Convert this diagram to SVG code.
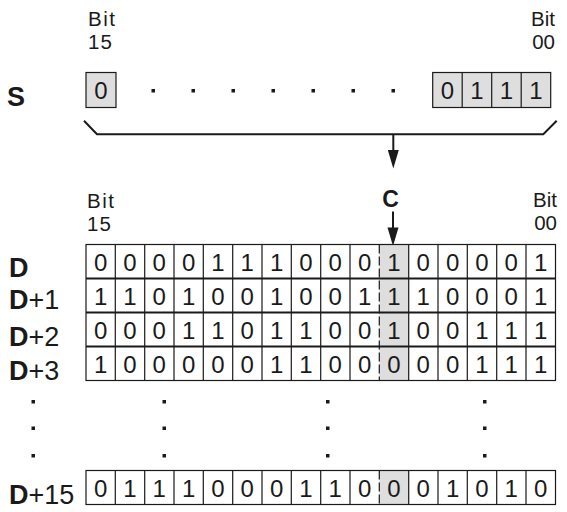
<svg xmlns="http://www.w3.org/2000/svg" width="567" height="512" viewBox="0 0 567 512">
<defs>
<style>
text{font-family:"Liberation Sans",Arial,sans-serif;fill:#1a1a1a}
.bit{font-size:20.5px}
.dig{font-size:24px;text-anchor:middle}
.lbl{font-size:27px}
.b{font-weight:bold}
.gray{fill:#dedede;stroke:#1a1a1a;stroke-width:1.2}
.dot{fill:#1a1a1a}
.ln{fill:none;stroke:#1a1a1a;stroke-width:2}
.head{fill:#1a1a1a}
</style>
</defs>
<rect width="567" height="512" fill="#fff"/>

<g id="bit-labels">
<text class="bit" x="88" y="26" textLength="27">Bit</text>
<text class="bit" x="88" y="48.5" textLength="24">15</text>
<text class="bit" x="555" y="26" text-anchor="end">Bit</text>
<text class="bit" x="555" y="48.5" text-anchor="end">00</text>
<text class="bit" x="87" y="208" textLength="27">Bit</text>
<text class="bit" x="87" y="230.5" textLength="24">15</text>
<text class="bit" x="557" y="207" text-anchor="end">Bit</text>
<text class="bit" x="557" y="229.5" text-anchor="end">00</text>
</g>

<g id="S">
<text class="lbl b" x="7" y="106">S</text>
<rect class="gray" x="86" y="72.5" width="30" height="35"/>
<text class="dig" x="101" y="99">0</text>
<rect class="gray" x="432.7" y="72.5" width="118" height="35"/>
<line x1="462.2" y1="72.5" x2="462.2" y2="107.5" stroke="#1a1a1a" stroke-width="1.2"/>
<line x1="491.7" y1="72.5" x2="491.7" y2="107.5" stroke="#1a1a1a" stroke-width="1.2"/>
<line x1="521.2" y1="72.5" x2="521.2" y2="107.5" stroke="#1a1a1a" stroke-width="1.2"/>
<text class="dig" x="447.5" y="99">0</text>
<text class="dig" x="477" y="99">1</text>
<text class="dig" x="506.5" y="99">1</text>
<text class="dig" x="536" y="99">1</text>
<rect class="dot" x="151.5" y="89" width="3.5" height="3.5"/>
<rect class="dot" x="191.5" y="89" width="3.5" height="3.5"/>
<rect class="dot" x="231.5" y="89" width="3.5" height="3.5"/>
<rect class="dot" x="271.5" y="89" width="3.5" height="3.5"/>
<rect class="dot" x="311.5" y="89" width="3.5" height="3.5"/>
<rect class="dot" x="351.5" y="89" width="3.5" height="3.5"/>
<rect class="dot" x="391.5" y="89" width="3.5" height="3.5"/>
</g>

<g id="connectors">
<path class="ln" d="M84,120.7 L97,134.3 L543.3,134.3 L556.7,120.7"/>
<line class="ln" x1="393.3" y1="134.3" x2="393.3" y2="152"/>
<path class="head" d="M387.8,150 L398.8,150 L393.3,168.5 Z"/>
<line class="ln" x1="393" y1="211.5" x2="393" y2="229"/>
<path class="head" d="M387.5,227.5 L398.5,227.5 L393,246 Z"/>
</g>

<g id="C">
<text class="b" x="390.5" y="207" font-size="23" text-anchor="middle">C</text>
</g>

<g id="grid">
<rect x="379.3" y="244.5" width="29.4" height="136" fill="#dedede"/>
<rect x="379.3" y="470.5" width="29.4" height="34" fill="#dedede"/>
<g fill="none" stroke="#1a1a1a" stroke-width="1.2">
<rect x="86" y="244.5" width="469.5" height="136"/>
<rect x="86" y="470.5" width="469.5" height="34"/>
<g stroke-width="1.8">
<line x1="86" y1="278.5" x2="555.5" y2="278.5"/>
<line x1="86" y1="312.5" x2="555.5" y2="312.5"/>
<line x1="86" y1="346.5" x2="555.5" y2="346.5"/>
</g>
<path d="M115.3,244.5V380.5M144.7,244.5V380.5M174,244.5V380.5M203.3,244.5V380.5M232.7,244.5V380.5M262,244.5V380.5M291.3,244.5V380.5M320.7,244.5V380.5M350,244.5V380.5M408.7,244.5V380.5M438,244.5V380.5M467.3,244.5V380.5M496.7,244.5V380.5M526,244.5V380.5"/>
<path d="M115.3,470.5V504.5M144.7,470.5V504.5M174,470.5V504.5M203.3,470.5V504.5M232.7,470.5V504.5M262,470.5V504.5M291.3,470.5V504.5M320.7,470.5V504.5M350,470.5V504.5M408.7,470.5V504.5M438,470.5V504.5M467.3,470.5V504.5M496.7,470.5V504.5M526,470.5V504.5"/>
<path d="M379.3,244.5V380.5M379.3,470.5V504.5" stroke-dasharray="9 3"/>
</g>
</g>

<g id="row-D">
<text class="lbl" x="9" y="277"><tspan class="b">D</tspan></text>
<text class="dig" y="270.5"><tspan x="100.7">0</tspan><tspan x="130">0</tspan><tspan x="159.3">0</tspan><tspan x="188.7">0</tspan><tspan x="218">1</tspan><tspan x="247.3">1</tspan><tspan x="276.7">1</tspan><tspan x="306">0</tspan><tspan x="335.3">0</tspan><tspan x="364.7">0</tspan><tspan x="394">1</tspan><tspan x="423.3">0</tspan><tspan x="452.7">0</tspan><tspan x="482">0</tspan><tspan x="511.3">0</tspan><tspan x="540.7">1</tspan></text>
</g>
<g id="row-D1">
<text class="lbl" x="9" y="309"><tspan class="b">D</tspan>+1</text>
<text class="dig" y="304.5"><tspan x="100.7">1</tspan><tspan x="130">1</tspan><tspan x="159.3">0</tspan><tspan x="188.7">1</tspan><tspan x="218">0</tspan><tspan x="247.3">0</tspan><tspan x="276.7">1</tspan><tspan x="306">0</tspan><tspan x="335.3">0</tspan><tspan x="364.7">1</tspan><tspan x="394">1</tspan><tspan x="423.3">1</tspan><tspan x="452.7">0</tspan><tspan x="482">0</tspan><tspan x="511.3">0</tspan><tspan x="540.7">1</tspan></text>
</g>
<g id="row-D2">
<text class="lbl" x="9" y="345.5"><tspan class="b">D</tspan>+2</text>
<text class="dig" y="338.5"><tspan x="100.7">0</tspan><tspan x="130">0</tspan><tspan x="159.3">0</tspan><tspan x="188.7">1</tspan><tspan x="218">1</tspan><tspan x="247.3">0</tspan><tspan x="276.7">1</tspan><tspan x="306">1</tspan><tspan x="335.3">0</tspan><tspan x="364.7">0</tspan><tspan x="394">1</tspan><tspan x="423.3">0</tspan><tspan x="452.7">0</tspan><tspan x="482">1</tspan><tspan x="511.3">1</tspan><tspan x="540.7">1</tspan></text>
</g>
<g id="row-D3">
<text class="lbl" x="9" y="379.5"><tspan class="b">D</tspan>+3</text>
<text class="dig" y="372.5"><tspan x="100.7">1</tspan><tspan x="130">0</tspan><tspan x="159.3">0</tspan><tspan x="188.7">0</tspan><tspan x="218">0</tspan><tspan x="247.3">0</tspan><tspan x="276.7">1</tspan><tspan x="306">1</tspan><tspan x="335.3">0</tspan><tspan x="364.7">0</tspan><tspan x="394">0</tspan><tspan x="423.3">0</tspan><tspan x="452.7">0</tspan><tspan x="482">1</tspan><tspan x="511.3">1</tspan><tspan x="540.7">1</tspan></text>
</g>
<g id="vdots">
<rect class="dot" x="31.5" y="400" width="3.5" height="3.5"/>
<rect class="dot" x="31.5" y="426.5" width="3.5" height="3.5"/>
<rect class="dot" x="31.5" y="454" width="3.5" height="3.5"/>
<rect class="dot" x="162.5" y="400" width="3.5" height="3.5"/>
<rect class="dot" x="162.5" y="426.5" width="3.5" height="3.5"/>
<rect class="dot" x="162.5" y="454" width="3.5" height="3.5"/>
<rect class="dot" x="326" y="400" width="3.5" height="3.5"/>
<rect class="dot" x="326" y="426.5" width="3.5" height="3.5"/>
<rect class="dot" x="326" y="454" width="3.5" height="3.5"/>
<rect class="dot" x="483" y="400" width="3.5" height="3.5"/>
<rect class="dot" x="483" y="426.5" width="3.5" height="3.5"/>
<rect class="dot" x="483" y="454" width="3.5" height="3.5"/>
</g>
<g id="row-D15">
<text class="lbl" x="9" y="504"><tspan class="b">D</tspan>+15</text>
<text class="dig" y="496.5"><tspan x="100.7">0</tspan><tspan x="130">1</tspan><tspan x="159.3">1</tspan><tspan x="188.7">1</tspan><tspan x="218">0</tspan><tspan x="247.3">0</tspan><tspan x="276.7">0</tspan><tspan x="306">1</tspan><tspan x="335.3">1</tspan><tspan x="364.7">0</tspan><tspan x="394">0</tspan><tspan x="423.3">0</tspan><tspan x="452.7">1</tspan><tspan x="482">0</tspan><tspan x="511.3">1</tspan><tspan x="540.7">0</tspan></text>
</g>
</svg>
